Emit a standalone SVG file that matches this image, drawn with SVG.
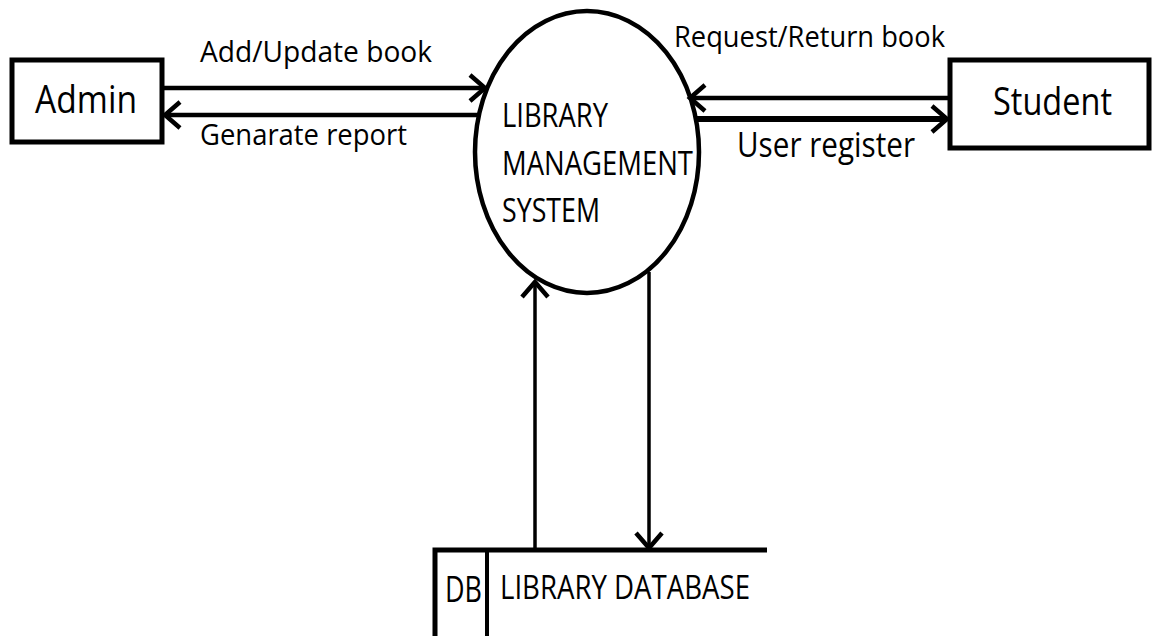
<svg xmlns="http://www.w3.org/2000/svg" width="1154" height="636" viewBox="0 0 1154 636">
<style>
.bg{fill:#fff}
.box{fill:#fff;stroke:#000;stroke-width:5}
.t{font-family:"Open Sans","Liberation Sans",sans-serif;fill:#000}
.c{fill:none;stroke:#000;stroke-width:4.5}
.thin{stroke-width:3.5}
.thick{stroke-width:6}
</style>
<defs>
<marker id="ah" markerUnits="userSpaceOnUse" markerWidth="40" markerHeight="40" viewBox="-20 -20 40 40" refX="0" refY="0" orient="auto">
<path d="M-15,-13 L0,0 L-15,13" fill="none" stroke="#000" stroke-width="4.5"/>
</marker>
</defs>
<rect class="bg" x="0" y="0" width="1154" height="636"/>
<g id="connectors">
<line class="c" x1="162" y1="88" x2="485" y2="88" marker-end="url(#ah)"/>
<line class="c" x1="479" y1="115" x2="165" y2="115" marker-end="url(#ah)"/>
<line class="c" x1="950" y1="98" x2="690" y2="98" marker-end="url(#ah)"/>
<line class="c thick" x1="697" y1="119" x2="947" y2="119" marker-end="url(#ah)"/>
<line class="c thin" x1="535" y1="550" x2="535" y2="282" marker-end="url(#ah)"/>
<line class="c thin" x1="649" y1="272" x2="649" y2="548" marker-end="url(#ah)"/>
<text class="t" x="200" y="62" font-size="30" textLength="232" lengthAdjust="spacingAndGlyphs">Add/Update book</text>
<text class="t" x="200" y="145" font-size="30" textLength="207" lengthAdjust="spacingAndGlyphs">Genarate report</text>
<text class="t" x="674" y="47" font-size="30" textLength="271" lengthAdjust="spacingAndGlyphs">Request/Return book</text>
<text class="t" x="737" y="157" font-size="35" textLength="178" lengthAdjust="spacingAndGlyphs">User register</text>
</g>
<g id="admin">
<rect class="box" x="12" y="60" width="150" height="82"/>
<text class="t" x="35" y="113" font-size="39" textLength="102" lengthAdjust="spacingAndGlyphs">Admin</text>
</g>
<g id="student">
<rect class="box" x="950" y="60" width="199" height="88"/>
<text class="t" x="993" y="115" font-size="39" textLength="119" lengthAdjust="spacingAndGlyphs">Student</text>
</g>
<g id="system">
<ellipse cx="587" cy="152" rx="112" ry="141" fill="none" stroke="#000" stroke-width="4.5"/>
<text class="t" x="502" y="127" font-size="33" textLength="106" lengthAdjust="spacingAndGlyphs">LIBRARY</text>
<text class="t" x="502" y="175" font-size="33" textLength="191" lengthAdjust="spacingAndGlyphs">MANAGEMENT</text>
<text class="t" x="502" y="222" font-size="33" textLength="98" lengthAdjust="spacingAndGlyphs">SYSTEM</text>
</g>
<g id="database">
<path d="M435,640 L435,550 L767,550" fill="none" stroke="#000" stroke-width="5"/>
<line x1="487" y1="550" x2="487" y2="640" stroke="#000" stroke-width="4"/>
<text class="t" x="445" y="602" font-size="36" textLength="37" lengthAdjust="spacingAndGlyphs">DB</text>
<text class="t" x="500" y="599" font-size="33" textLength="250" lengthAdjust="spacingAndGlyphs">LIBRARY DATABASE</text>
</g>
</svg>
